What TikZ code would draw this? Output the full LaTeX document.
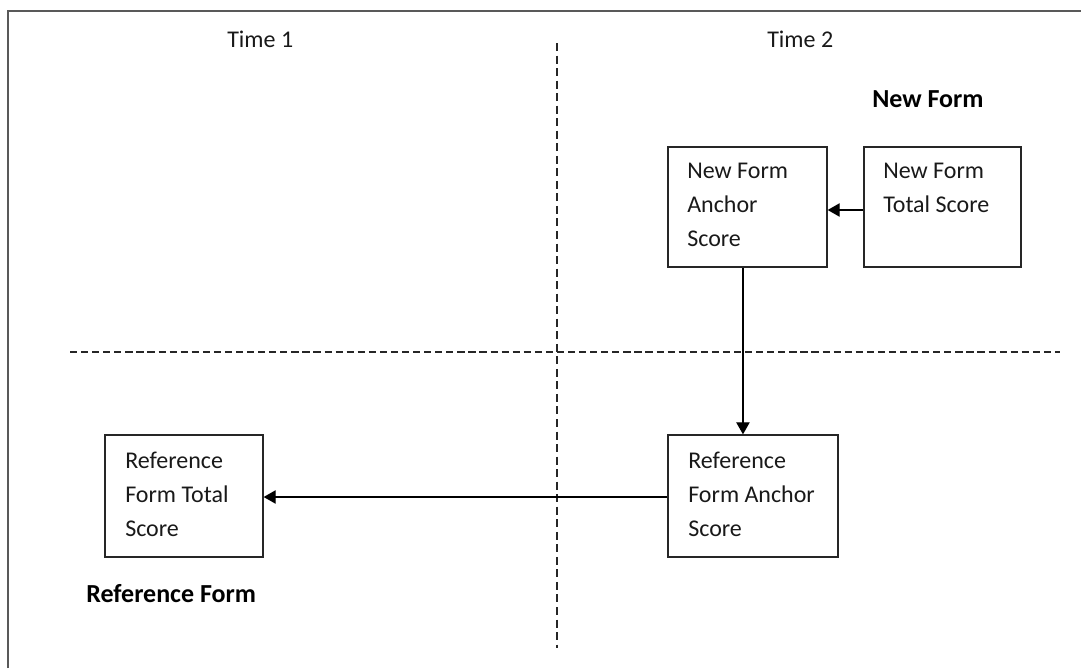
\documentclass[tikz,border=0pt]{standalone}
\usepackage{fontspec}
\setmainfont{Carlito}
\usetikzlibrary{arrows.meta}
\begin{document}
\begin{tikzpicture}[x=0.75pt,y=-0.75pt,
  box/.style={draw=black!85,line width=1pt,rectangle,inner sep=0pt},
  boxtext/.style={anchor=north west,inner sep=0pt,align=left,text=black!90,
    font=\fontsize{18}{25.7}\selectfont},
  title/.style={anchor=base west,inner sep=0pt,text=black!90,font=\fontsize{18}{25.7}\selectfont},
  formlabel/.style={anchor=base west,inner sep=0pt,font=\fontsize{19.5}{26}\selectfont\bfseries},
  arr/.style={draw=black,line width=0.9pt,-{Triangle[length=9pt,width=10pt]}},
  divider/.style={draw=black!85,line width=1.5pt}
]
\useasboundingbox (0,0) rectangle (1081,668);
% frame
\draw[draw=black!65,line width=1.5pt] (8,668) -- (8,11) -- (1081,11);
% dividers
\draw[divider,dash pattern=on 6pt off 3.4pt] (557,43) -- (557,648);
\draw[divider,dash pattern=on 5.4pt off 2.9pt] (70,352) -- (1060,352);
% titles
\node[title] (t1) at (227,47) {Time 1};
\node[title] (t2) at (767,47) {Time 2};
\node[formlabel] (nf) at (872,107) {New Form};
\node[formlabel] (rf) at (86,602) {Reference Form};
% boxes
\node[box,minimum width=159*0.75pt,minimum height=120*0.75pt] (nfas) at (747.5,207) {};
\node[box,minimum width=157*0.75pt,minimum height=120*0.75pt] (nfts) at (942.5,207) {};
\node[box,minimum width=158*0.75pt,minimum height=122*0.75pt] (rfts) at (184,496) {};
\node[box,minimum width=170*0.75pt,minimum height=122*0.75pt] (rfas) at (753,496) {};
% box texts
\node[boxtext] (nfast) at (687,154) {\strut New Form\\\strut Anchor\\\strut Score};
\node[boxtext] (nftst) at (883,154) {\strut New Form\\\strut Total Score};
\node[boxtext] (rftst) at (125,444) {\strut Reference\\\strut Form Total\\\strut Score};
\node[boxtext] (rfast) at (688,444) {\strut Reference\\\strut Form Anchor\\\strut Score};
% connectors
\draw[arr] ([yshift=-2.25pt]nfts.west) coordinate (p1) -- (p1 -| nfas.east);
\draw[arr] ([xshift=-3.4pt]nfas.south) coordinate (p2) -- (p2 |- rfas.north);
\draw[arr] ([yshift=-0.75pt]rfas.west) coordinate (p3) -- (p3 -| rfts.east);
\end{tikzpicture}
\end{document}
